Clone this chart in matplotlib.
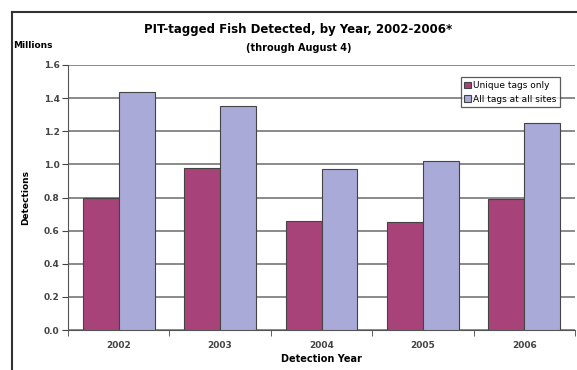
import matplotlib.pyplot as plt
from matplotlib.lines import Line2D
import numpy as np

years = ["2002", "2003", "2004", "2005", "2006"]
unique_tags = [0.80, 0.98, 0.66, 0.65, 0.79]
all_tags = [1.44, 1.35, 0.97, 1.02, 1.25]
y_ticks = [0.0, 0.2, 0.4, 0.6, 0.8, 1.0, 1.2, 1.4, 1.6]

fig = plt.figure(figsize=(5.77, 3.70), dpi=100)
W, H = 577, 370
ax = fig.add_axes([68/W, 1-330/H, (575-68)/W, (330-65)/H])

x = np.arange(len(years))
bw = 0.355
ax.bar(x - bw/2, unique_tags, bw, color='#A8437A', edgecolor='#444444', linewidth=0.8,
       label='Unique tags only', zorder=3)
ax.bar(x + bw/2, all_tags, bw, color='#A9AAD8', edgecolor='#444444', linewidth=0.8,
       label='All tags at all sites', zorder=3)

ax.set_xlim(-0.5, len(years) - 0.5)
ax.set_ylim(0, 1.6)
ax.set_yticks(y_ticks)
ax.set_yticklabels(["%.1f" % v for v in y_ticks], fontsize=6.5, fontweight='bold', color='#444444')
ax.set_xticks(x)
ax.set_xticklabels(years, fontsize=6.5, fontweight='bold', color='#444444')
ax.set_xticks(np.arange(len(years) + 1) - 0.5, minor=True)
ax.tick_params(axis='x', which='major', length=0, pad=8)
ax.tick_params(axis='x', which='minor', length=4, direction='out', color='#444444')
ax.tick_params(axis='y', length=4, direction='out', color='#444444', pad=2)
ax.yaxis.grid(True, color='#8a8a8a', linewidth=1.4, zorder=0)
for s in ['top', 'right']:
    ax.spines[s].set_visible(False)
ax.spines['left'].set_color('#555555')
ax.spines['bottom'].set_color('#555555')

ax.set_xlabel("Detection Year", fontsize=7, fontweight='bold', labelpad=3)
ax.set_ylabel("Detections", fontsize=6.5, fontweight='bold', labelpad=10)

leg = ax.legend(loc='upper right', bbox_to_anchor=(0.98, 0.97), fontsize=6.5,
                frameon=True, fancybox=False, edgecolor='#333333', handlelength=0.7,
                handleheight=0.7, handletextpad=0.3, borderpad=0.4, labelspacing=0.5)
leg.get_frame().set_linewidth(0.9)

fig.text(0.5 + 10/W, 1 - 29/H, "PIT-tagged Fish Detected, by Year, 2002-2006*",
         ha='center', va='center', fontsize=8.5, fontweight='bold')
fig.text(0.5 + 10/W, 1 - 48/H, "(through August 4)", ha='center', va='center',
         fontsize=7, fontweight='bold')
fig.text(13/W, 1 - 45/H, "Millions", ha='left', va='center', fontsize=6.5, fontweight='bold')

# outer frame
fig.add_artist(Line2D([12/W, 1], [1 - 12/H, 1 - 12/H], color='#333333', linewidth=1.5))
fig.add_artist(Line2D([12/W, 12/W], [0, 1 - 12/H], color='#333333', linewidth=1.5))

fig.savefig("out.png", dpi=100)
